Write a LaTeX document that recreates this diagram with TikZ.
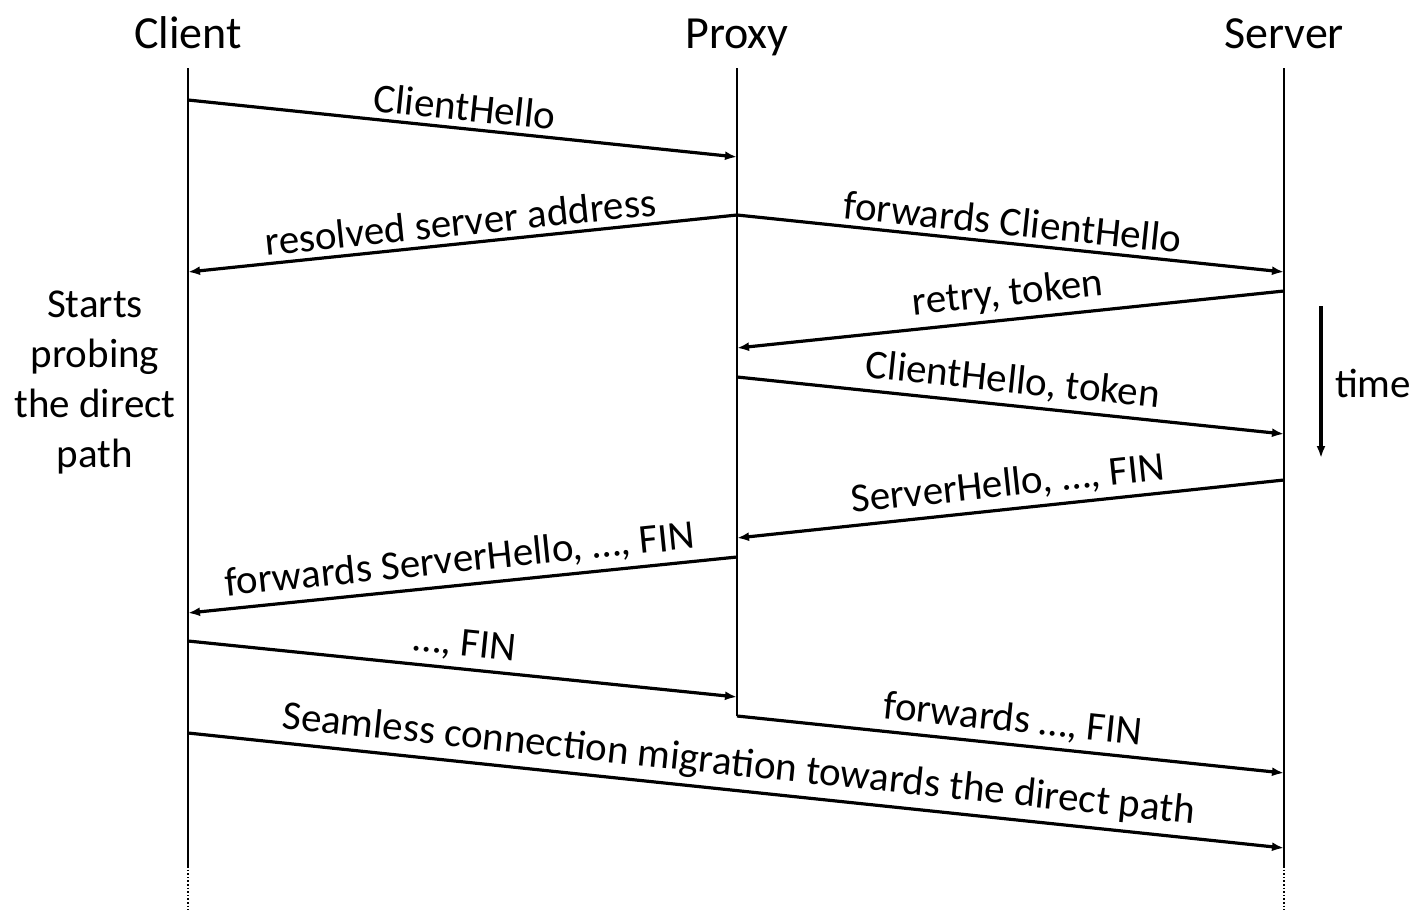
\documentclass[tikz,border=0pt]{standalone}
\usepackage{fontspec}
\setmainfont{Carlito}
\usetikzlibrary{arrows.meta}
\begin{document}
\begin{tikzpicture}[x=1pt,y=-1pt,
    every node/.style={font=\fontsize{41}{50}\selectfont},
    head node/.style={font=\fontsize{46}{55}\selectfont,anchor=base},
    life line/.style={line width=1.6pt},
    msg/.style={line width=3.2pt,-{Latex[length=12pt,width=9pt]}},
    lbl/.style={sloped,above,inner sep=6pt}]
    \useasboundingbox (0,0) rectangle (1416,910);

    % participants
    \node[head node] at (188,48) (client) {Client};
    \node[head node] at (737,48) (proxy) {Proxy};
    \node[head node] at (1284,48) (server) {Server};

    % lifelines
    \foreach \who/\x in {c/188,s/1284}{
        \coordinate (\who top) at (\x,68);
        \coordinate (\who end) at (\x,866);
        \coordinate (\who bot) at (\x,910);
        \draw[life line] (\who top) -- (\who end);
        \draw[line width=1.6pt,dotted] (\who end) -- (\who bot);
    }
    \coordinate (ptop) at (737,68);

    % message end points
    \coordinate (c1) at (188,100);  \coordinate (p1) at (737,157);
    \coordinate (p2) at (737,215);  \coordinate (c2) at (188,272);
    \coordinate (s2) at (1284,272);
    \coordinate (s3) at (1284,291); \coordinate (p3) at (737,348);
    \coordinate (p4) at (737,377);  \coordinate (s4) at (1284,434);
    \coordinate (s5) at (1284,480); \coordinate (p5) at (737,538);
    \coordinate (p6) at (737,557);  \coordinate (c6) at (188,613);
    \coordinate (c7) at (188,641);  \coordinate (p7) at (737,697);
    \coordinate (p8) at (737,716);  \coordinate (s8) at (1284,773);
    \coordinate (c9) at (188,733);  \coordinate (s9) at (1284,848);
    \draw[life line] (ptop) -- (p8);

    \path[msg] (c1) edge node[lbl] {ClientHello} (p1);
    \path[msg] (p2) edge node[lbl] {resolved server address} (c2);
    \path[msg] (p2) edge node[lbl] {forwards ClientHello} (s2);
    \path[msg] (s3) edge node[lbl] {retry, token} (p3);
    \path[msg] (p4) edge node[lbl] {ClientHello, token} (s4);
    \path[msg] (s5) edge node[lbl] {ServerHello, …, FIN} (p5);
    \path[msg] (p6) edge node[lbl] {forwards ServerHello, …, FIN} (c6);
    \path[msg] (c7) edge node[lbl] {…, FIN} (p7);
    \path[msg] (p8) edge node[lbl] {forwards …, FIN} (s8);
    \path[msg] (c9) edge node[lbl] {Seamless connection migration towards the direct path} (s9);

    % side notes
    \node[align=center] at (95,382) (probe) {Starts\\probing\\the direct\\path};
    \coordinate (t0) at (1321,306);
    \coordinate (t1) at (1321,458);
    \draw[msg] (t0) -- (t1);
    \node at (1373,383) (time) {time};
\end{tikzpicture}
\end{document}
